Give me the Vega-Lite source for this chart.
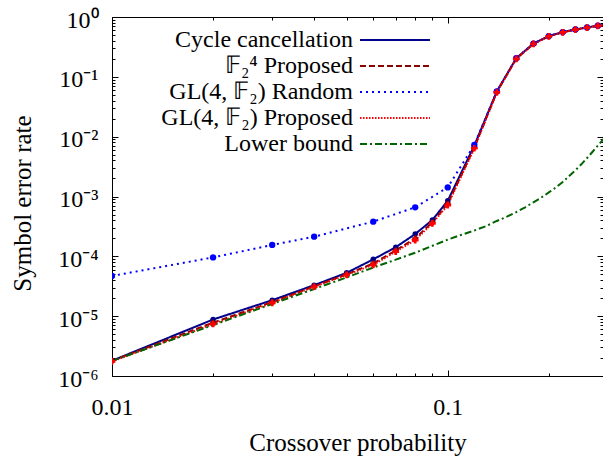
{
  "$schema": "https://vega.github.io/schema/vega-lite/v6.json",
  "width": 491,
  "height": 359,
  "autosize": {"type": "none"},
  "padding": {"left": 112, "top": 17, "right": 0, "bottom": 86},
  "config": {
    "view": {"stroke": null},
    "font": "Liberation Serif",
    "axis": {"grid": false, "domainColor": "black", "tickColor": "black", "labelColor": "black", "titleColor": "black", "labelFont": "Liberation Serif", "titleFont": "Liberation Serif", "titleFontWeight": "normal", "labelOverlap": false, "labelFlush": false}
  },
  "data": {"values": [
    {"s": "Cycle cancellation", "p": 0.01, "v": 1.8e-6},
    {"s": "Cycle cancellation", "p": 0.02, "v": 8.8e-6},
    {"s": "Cycle cancellation", "p": 0.03, "v": 1.85e-5},
    {"s": "Cycle cancellation", "p": 0.04, "v": 3.3e-5},
    {"s": "Cycle cancellation", "p": 0.05, "v": 5.3e-5},
    {"s": "Cycle cancellation", "p": 0.06, "v": 8.9e-5},
    {"s": "Cycle cancellation", "p": 0.07, "v": 1.42e-4},
    {"s": "Cycle cancellation", "p": 0.08, "v": 2.36e-4},
    {"s": "Cycle cancellation", "p": 0.09, "v": 4.05e-4},
    {"s": "Cycle cancellation", "p": 0.1, "v": 8.5e-4},
    {"s": "Cycle cancellation", "p": 0.12, "v": 7.1e-3},
    {"s": "Cycle cancellation", "p": 0.14, "v": 0.057},
    {"s": "Cycle cancellation", "p": 0.16, "v": 0.205},
    {"s": "Cycle cancellation", "p": 0.18, "v": 0.36},
    {"s": "Cycle cancellation", "p": 0.2, "v": 0.48},
    {"s": "Cycle cancellation", "p": 0.22, "v": 0.56},
    {"s": "Cycle cancellation", "p": 0.24, "v": 0.62},
    {"s": "Cycle cancellation", "p": 0.26, "v": 0.67},
    {"s": "Cycle cancellation", "p": 0.28, "v": 0.715},
    {"s": "Cycle cancellation", "p": 0.3, "v": 0.75},
    {"s": "𝔽₂⁴ Proposed", "p": 0.01, "v": 1.8e-6},
    {"s": "𝔽₂⁴ Proposed", "p": 0.02, "v": 7.8e-6},
    {"s": "𝔽₂⁴ Proposed", "p": 0.03, "v": 1.72e-5},
    {"s": "𝔽₂⁴ Proposed", "p": 0.04, "v": 3.15e-5},
    {"s": "𝔽₂⁴ Proposed", "p": 0.05, "v": 5.0e-5},
    {"s": "𝔽₂⁴ Proposed", "p": 0.06, "v": 7.6e-5},
    {"s": "𝔽₂⁴ Proposed", "p": 0.07, "v": 1.25e-4},
    {"s": "𝔽₂⁴ Proposed", "p": 0.08, "v": 2.0e-4},
    {"s": "𝔽₂⁴ Proposed", "p": 0.09, "v": 3.7e-4},
    {"s": "𝔽₂⁴ Proposed", "p": 0.1, "v": 7.6e-4},
    {"s": "𝔽₂⁴ Proposed", "p": 0.12, "v": 6.6e-3},
    {"s": "𝔽₂⁴ Proposed", "p": 0.14, "v": 0.056},
    {"s": "𝔽₂⁴ Proposed", "p": 0.16, "v": 0.2},
    {"s": "𝔽₂⁴ Proposed", "p": 0.18, "v": 0.355},
    {"s": "𝔽₂⁴ Proposed", "p": 0.2, "v": 0.475},
    {"s": "𝔽₂⁴ Proposed", "p": 0.22, "v": 0.555},
    {"s": "𝔽₂⁴ Proposed", "p": 0.24, "v": 0.615},
    {"s": "𝔽₂⁴ Proposed", "p": 0.26, "v": 0.665},
    {"s": "𝔽₂⁴ Proposed", "p": 0.28, "v": 0.71},
    {"s": "𝔽₂⁴ Proposed", "p": 0.3, "v": 0.745},
    {"s": "GL(4, 𝔽₂) Random", "p": 0.01, "v": 4.7e-5},
    {"s": "GL(4, 𝔽₂) Random", "p": 0.02, "v": 9.6e-5},
    {"s": "GL(4, 𝔽₂) Random", "p": 0.03, "v": 1.55e-4},
    {"s": "GL(4, 𝔽₂) Random", "p": 0.04, "v": 2.13e-4},
    {"s": "GL(4, 𝔽₂) Random", "p": 0.06, "v": 3.8e-4},
    {"s": "GL(4, 𝔽₂) Random", "p": 0.08, "v": 6.6e-4},
    {"s": "GL(4, 𝔽₂) Random", "p": 0.1, "v": 1.42e-3},
    {"s": "GL(4, 𝔽₂) Random", "p": 0.12, "v": 7.3e-3},
    {"s": "GL(4, 𝔽₂) Random", "p": 0.14, "v": 0.057},
    {"s": "GL(4, 𝔽₂) Random", "p": 0.16, "v": 0.205},
    {"s": "GL(4, 𝔽₂) Random", "p": 0.18, "v": 0.36},
    {"s": "GL(4, 𝔽₂) Random", "p": 0.2, "v": 0.48},
    {"s": "GL(4, 𝔽₂) Random", "p": 0.22, "v": 0.56},
    {"s": "GL(4, 𝔽₂) Random", "p": 0.24, "v": 0.62},
    {"s": "GL(4, 𝔽₂) Random", "p": 0.26, "v": 0.67},
    {"s": "GL(4, 𝔽₂) Random", "p": 0.28, "v": 0.715},
    {"s": "GL(4, 𝔽₂) Random", "p": 0.3, "v": 0.75},
    {"s": "GL(4, 𝔽₂) Proposed", "p": 0.01, "v": 1.75e-6},
    {"s": "GL(4, 𝔽₂) Proposed", "p": 0.02, "v": 7.4e-6},
    {"s": "GL(4, 𝔽₂) Proposed", "p": 0.03, "v": 1.67e-5},
    {"s": "GL(4, 𝔽₂) Proposed", "p": 0.04, "v": 3.1e-5},
    {"s": "GL(4, 𝔽₂) Proposed", "p": 0.05, "v": 4.9e-5},
    {"s": "GL(4, 𝔽₂) Proposed", "p": 0.06, "v": 7.2e-5},
    {"s": "GL(4, 𝔽₂) Proposed", "p": 0.07, "v": 1.2e-4},
    {"s": "GL(4, 𝔽₂) Proposed", "p": 0.08, "v": 1.87e-4},
    {"s": "GL(4, 𝔽₂) Proposed", "p": 0.09, "v": 3.56e-4},
    {"s": "GL(4, 𝔽₂) Proposed", "p": 0.1, "v": 7.2e-4},
    {"s": "GL(4, 𝔽₂) Proposed", "p": 0.12, "v": 6.4e-3},
    {"s": "GL(4, 𝔽₂) Proposed", "p": 0.14, "v": 0.055},
    {"s": "GL(4, 𝔽₂) Proposed", "p": 0.16, "v": 0.2},
    {"s": "GL(4, 𝔽₂) Proposed", "p": 0.18, "v": 0.355},
    {"s": "GL(4, 𝔽₂) Proposed", "p": 0.2, "v": 0.475},
    {"s": "GL(4, 𝔽₂) Proposed", "p": 0.22, "v": 0.555},
    {"s": "GL(4, 𝔽₂) Proposed", "p": 0.24, "v": 0.615},
    {"s": "GL(4, 𝔽₂) Proposed", "p": 0.26, "v": 0.665},
    {"s": "GL(4, 𝔽₂) Proposed", "p": 0.28, "v": 0.71},
    {"s": "GL(4, 𝔽₂) Proposed", "p": 0.3, "v": 0.745},
    {"s": "Lower bound", "p": 0.01, "v": 1.78e-6},
    {"s": "Lower bound", "p": 0.015, "v": 4.0e-6},
    {"s": "Lower bound", "p": 0.02, "v": 7.1e-6},
    {"s": "Lower bound", "p": 0.03, "v": 1.6e-5},
    {"s": "Lower bound", "p": 0.04, "v": 2.85e-5},
    {"s": "Lower bound", "p": 0.05, "v": 4.45e-5},
    {"s": "Lower bound", "p": 0.06, "v": 6.5e-5},
    {"s": "Lower bound", "p": 0.07, "v": 8.8e-5},
    {"s": "Lower bound", "p": 0.08, "v": 1.15e-4},
    {"s": "Lower bound", "p": 0.09, "v": 1.5e-4},
    {"s": "Lower bound", "p": 0.1, "v": 1.9e-4},
    {"s": "Lower bound", "p": 0.11, "v": 2.3e-4},
    {"s": "Lower bound", "p": 0.12, "v": 2.7e-4},
    {"s": "Lower bound", "p": 0.13, "v": 3.2e-4},
    {"s": "Lower bound", "p": 0.14, "v": 3.9e-4},
    {"s": "Lower bound", "p": 0.15, "v": 4.6e-4},
    {"s": "Lower bound", "p": 0.16, "v": 5.5e-4},
    {"s": "Lower bound", "p": 0.17, "v": 6.6e-4},
    {"s": "Lower bound", "p": 0.18, "v": 8.0e-4},
    {"s": "Lower bound", "p": 0.19, "v": 9.6e-4},
    {"s": "Lower bound", "p": 0.2, "v": 1.17e-3},
    {"s": "Lower bound", "p": 0.21, "v": 1.42e-3},
    {"s": "Lower bound", "p": 0.22, "v": 1.75e-3},
    {"s": "Lower bound", "p": 0.23, "v": 2.2e-3},
    {"s": "Lower bound", "p": 0.24, "v": 2.75e-3},
    {"s": "Lower bound", "p": 0.25, "v": 3.45e-3},
    {"s": "Lower bound", "p": 0.26, "v": 4.4e-3},
    {"s": "Lower bound", "p": 0.27, "v": 5.6e-3},
    {"s": "Lower bound", "p": 0.28, "v": 7.1e-3},
    {"s": "Lower bound", "p": 0.29, "v": 8.9e-3},
    {"s": "Lower bound", "p": 0.3, "v": 1.1e-2}
  ]},
  "resolve": {"axis": {"x": "independent", "y": "independent"}},
  "layer": [
    {
      "mark": {"type": "line", "clip": true, "strokeWidth": 2},
      "encoding": {
        "x": {"field": "p", "type": "quantitative",
          "scale": {"type": "log", "domain": [0.01, 0.29], "nice": false},
          "axis": {"orient": "bottom", "title": "Crossover probability", "titleFontSize": 25, "titleBaseline": "alphabetic", "titleY": 74,
            "labelFontSize": 24, "labelPadding": 25, "labelBaseline": "top",
            "values": [0.01, 0.02, 0.03, 0.04, 0.05, 0.06, 0.07, 0.08, 0.09, 0.1, 0.2],
            "labelExpr": "datum.value == 0.01 ? '0.01' : (datum.value == 0.1 ? '0.1' : '')",
            "tickSize": {"condition": {"test": "abs(log(datum.value)/LN10 - round(log(datum.value)/LN10)) < 0.001", "value": -6}, "value": -3}}},
        "y": {"field": "v", "type": "quantitative",
          "scale": {"type": "log", "domain": [1e-6, 1], "nice": false},
          "axis": {"orient": "left", "title": "Symbol error rate", "titleFontSize": 25, "titleAngle": -90, "titleBaseline": "alphabetic", "titleAlign": "center", "titleX": -82, "titleY": 186,
            "labelFontSize": 24, "labelPadding": 20, "labelBaseline": "middle", "labelOffset": 3,
            "values": [1e-6, 2e-6, 3e-6, 4e-6, 5e-6, 6e-6, 7e-6, 8e-6, 9e-6, 1e-5, 2e-5, 3e-5, 4e-5, 5e-5, 6e-5, 7e-5, 8e-5, 9e-5, 1e-4, 2e-4, 3e-4, 4e-4, 5e-4, 6e-4, 7e-4, 8e-4, 9e-4, 1e-3, 2e-3, 3e-3, 4e-3, 5e-3, 6e-3, 7e-3, 8e-3, 9e-3, 0.01, 0.02, 0.03, 0.04, 0.05, 0.06, 0.07, 0.08, 0.09, 0.1, 0.2, 0.3, 0.4, 0.5, 0.6, 0.7, 0.8, 0.9, 1],
            "labelExpr": "abs(log(datum.value)/LN10 - round(log(datum.value)/LN10)) < 0.001 ? '10' + (round(log(datum.value)/LN10) < 0 ? '⁻' : '') + ['⁰','¹','²','³','⁴','⁵','⁶'][abs(round(log(datum.value)/LN10))] : ''",
            "tickSize": {"condition": {"test": "abs(log(datum.value)/LN10 - round(log(datum.value)/LN10)) < 0.001", "value": -6}, "value": -3}}},
        "color": {"field": "s", "type": "nominal",
          "scale": {"domain": ["Cycle cancellation", "𝔽₂⁴ Proposed", "GL(4, 𝔽₂) Random", "GL(4, 𝔽₂) Proposed", "Lower bound"],
                    "range": ["#00008b", "#8b0000", "#0000ff", "#ff0000", "#006400"]},
          "legend": {"title": null, "orient": "none", "legendX": 271, "legendY": 11, "padding": 0,
            "symbolType": "M-5,0H5", "symbolSize": 196, "symbolStrokeWidth": 2,
            "labelFont": "Liberation Serif", "labelFontSize": 24, "labelColor": "black", "labelAlign": "right", "labelOffset": -54, "rowPadding": 2, "labelLimit": 400}},
        "strokeDash": {"field": "s", "type": "nominal",
          "scale": {"domain": ["Cycle cancellation", "𝔽₂⁴ Proposed", "GL(4, 𝔽₂) Random", "GL(4, 𝔽₂) Proposed", "Lower bound"],
                    "range": [[1, 0], [6, 3], [2, 4], [1.5, 1.5], [7, 3, 2, 3]]}},
        "order": {"field": "p", "type": "quantitative"}
      }
    },
    {
      "transform": [{"filter": "datum.s != 'Lower bound'"}],
      "mark": {"type": "point", "clip": true, "filled": true, "opacity": 1},
      "encoding": {
        "x": {"field": "p", "type": "quantitative",
          "axis": {"orient": "top", "title": null, "labels": false, "values": [0.01, 0.02, 0.03, 0.04, 0.05, 0.06, 0.07, 0.08, 0.09, 0.1, 0.2],
            "tickSize": {"condition": {"test": "abs(log(datum.value)/LN10 - round(log(datum.value)/LN10)) < 0.001", "value": -6}, "value": -3}}},
        "y": {"field": "v", "type": "quantitative",
          "axis": {"orient": "right", "title": null, "labels": false, "domain": false,
            "values": [1e-6, 2e-6, 3e-6, 4e-6, 5e-6, 6e-6, 7e-6, 8e-6, 9e-6, 1e-5, 2e-5, 3e-5, 4e-5, 5e-5, 6e-5, 7e-5, 8e-5, 9e-5, 1e-4, 2e-4, 3e-4, 4e-4, 5e-4, 6e-4, 7e-4, 8e-4, 9e-4, 1e-3, 2e-3, 3e-3, 4e-3, 5e-3, 6e-3, 7e-3, 8e-3, 9e-3, 0.01, 0.02, 0.03, 0.04, 0.05, 0.06, 0.07, 0.08, 0.09, 0.1, 0.2, 0.3, 0.4, 0.5, 0.6, 0.7, 0.8, 0.9, 1],
            "tickSize": {"condition": {"test": "abs(log(datum.value)/LN10 - round(log(datum.value)/LN10)) < 0.001", "value": -6}, "value": -3}}},
        "color": {"field": "s", "type": "nominal"},
        "shape": {"field": "s", "type": "nominal", "legend": null,
          "scale": {"domain": ["Cycle cancellation", "𝔽₂⁴ Proposed", "GL(4, 𝔽₂) Random", "GL(4, 𝔽₂) Proposed"], "range": ["circle", "cross", "circle", "cross"]}},
        "size": {"field": "s", "type": "nominal", "legend": null,
          "scale": {"domain": ["Cycle cancellation", "𝔽₂⁴ Proposed", "GL(4, 𝔽₂) Random", "GL(4, 𝔽₂) Proposed"], "range": [30, 45, 55, 45]}}
      }
    }
  ]
}
